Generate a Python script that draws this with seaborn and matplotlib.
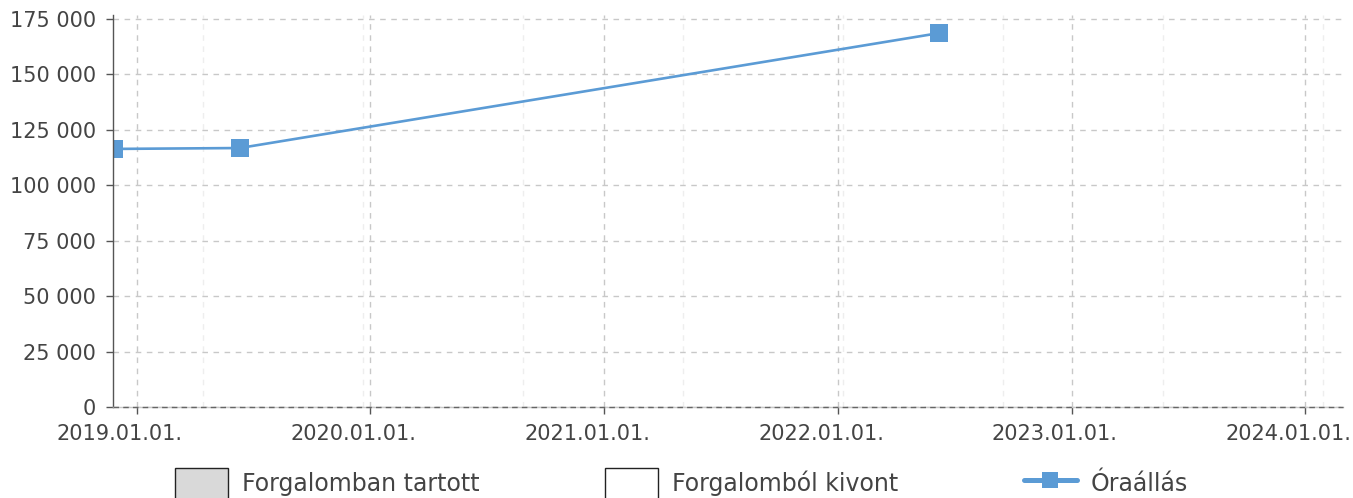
import pandas as pd
import seaborn as sns
import numpy as np
import matplotlib.pyplot as plt
import matplotlib.dates as mdates
import matplotlib.transforms as mtransforms
from matplotlib.ticker import MultipleLocator, FuncFormatter
from matplotlib.patches import Patch
from matplotlib.lines import Line2D

# Óraállás readings
dates = pd.to_datetime(['2018-11-27', '2019-06-11', '2022-06-07'])
values = [116400, 116800, 168600]

legend_labels = ['Forgalomban tartott', 'Forgalomból kivont', 'Óraállás']
y_ticks = [0, 25000, 50000, 75000, 100000, 125000, 150000, 175000]

line_color = '#5b9bd5'
text_color = '#444444'

sns.set_theme(style='white')
plt.rcParams['font.family'] = ['DejaVu Sans']

fig = plt.figure(figsize=(13.53, 4.98), dpi=100)
ax = fig.add_axes([113/1353, 1-407/498, (1343-113)/1353, (407-15)/498])

df = pd.DataFrame({'date': dates, 'value': values})
sns.lineplot(data=df, x='date', y='value', ax=ax, color=line_color, linewidth=1.9,
             marker='s', markersize=12.5, markeredgewidth=0, legend=False)

ax.set_xlim(pd.Timestamp('2018-11-25'), pd.Timestamp('2024-02-29'))
ax.set_ylim(0, 176800)
ax.set_xlabel('')
ax.set_ylabel('')

ax.xaxis.set_major_locator(mdates.YearLocator())
ax.xaxis.set_major_formatter(mdates.DateFormatter('%Y.%m.%d.'))
ax.xaxis.set_minor_locator(MultipleLocator(250))
ax.set_yticks(y_ticks)
ax.yaxis.set_major_formatter(FuncFormatter(lambda v, p: f"{int(v):,}".replace(',', ' ')))

ax.grid(True, which='major', axis='both', color='#c8c8c8', linestyle=(0, (4, 4)), linewidth=1)
ax.grid(True, which='minor', axis='x', color='#eeeeee', linestyle=(0, (4, 4)), linewidth=1)
ax.set_axisbelow(True)

for s in ['top', 'right']:
    ax.spines[s].set_visible(False)
ax.spines['left'].set_color('#555555')
ax.spines['bottom'].set_color('#c8c8c8')
ax.spines['left'].set_linewidth(1)
ax.spines['bottom'].set_linewidth(1)
ax.axhline(0, color='#666666', linestyle=(0, (4, 3)), linewidth=1, zorder=3, clip_on=False)

ax.tick_params(axis='both', which='major', direction='out', length=5, width=1,
               color='#555555', labelcolor=text_color, labelsize=15)
ax.tick_params(axis='y', pad=7, left=True)
ax.tick_params(axis='x', pad=7, bottom=True)
ax.tick_params(axis='x', which='minor', length=0)

# date labels sit a little left of their ticks
shift = mtransforms.ScaledTranslation(-17/100, 0, fig.dpi_scale_trans)
for lbl in ax.get_xticklabels():
    lbl.set_transform(lbl.get_transform() + shift)

handles = [
    Patch(facecolor='#d9d9d9', edgecolor='#222222', linewidth=1),
    Patch(facecolor='white', edgecolor='#222222', linewidth=1),
    Line2D([0], [0], color=line_color, linewidth=3.6, marker='s', markersize=11.5, markeredgewidth=0),
]
leg = fig.legend(handles, legend_labels, loc='upper left', bbox_to_anchor=(175/1353, 1-468/498),
                 ncol=3, frameon=False, fontsize=17, borderpad=0, borderaxespad=0,
                 handlelength=2.25, handleheight=1.66, handletextpad=0.6, columnspacing=5.3)
for t in leg.get_texts():
    t.set_color(text_color)

fig.savefig('out.png', dpi=100)
